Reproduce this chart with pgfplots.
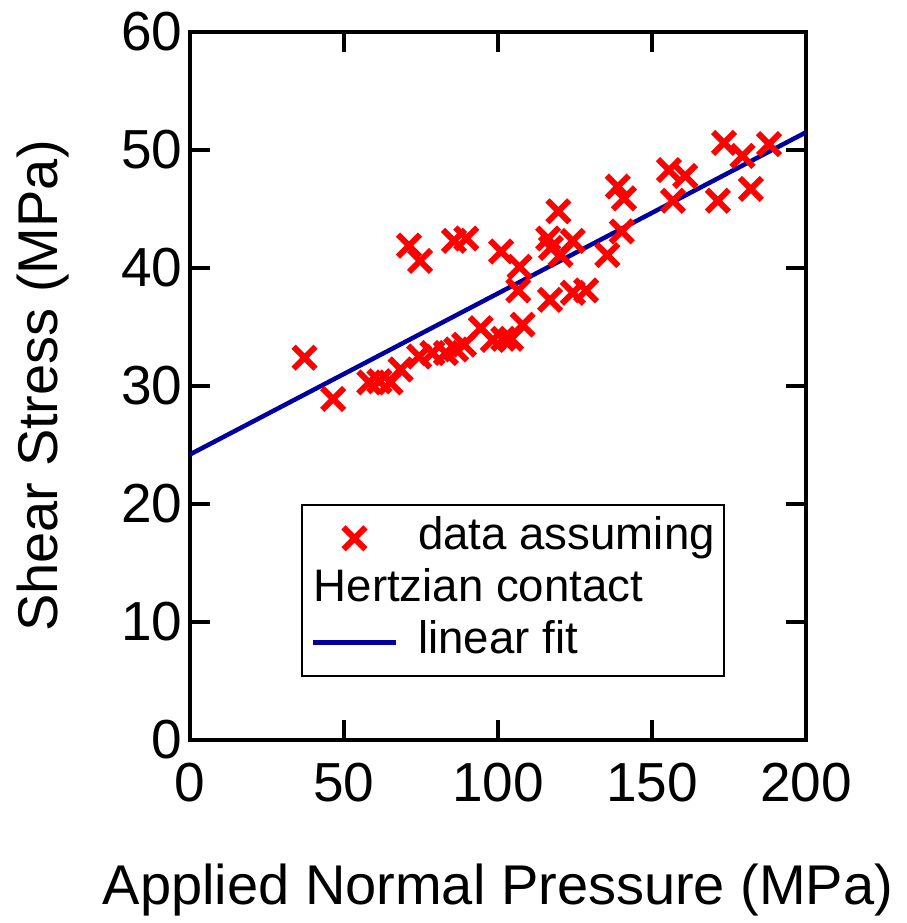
\documentclass[border=0pt]{standalone}
\usepackage{fontspec}
\setmainfont{Liberation Sans}
\usepackage{pgfplots}
\pgfplotsset{compat=1.18}
\definecolor{fitblue}{RGB}{0,0,160}
\begin{document}
\begin{tikzpicture}
\begin{axis}[
 name=ax,
 scale only axis, width=616pt, height=708pt,
 xmin=0,xmax=200,ymin=0,ymax=60,
 xtick={0,50,...,200}, ytick={0,10,...,60},
 axis line style={line width=4.5pt},
 every tick/.style={black, line width=4.5pt},
 major tick length=20pt,
 tick label style={font=\fontsize{55}{60}\selectfont},
 /pgf/number format/assume math mode=true,
 xticklabel style={yshift=-20pt},
 yticklabel style={xshift=-4pt},
 xlabel={Applied Normal Pressure (MPa)},
 ylabel={Shear Stress (MPa)},
 label style={font=\fontsize{56}{60}\selectfont},
 xlabel style={at={(axis description cs:0.5,-0.233)},anchor=base},
 ylabel style={at={(axis description cs:-0.2143,0.5)},anchor=base},
 legend style={at={(axis description cs:0.1802,0.3333)}, anchor=north west,
   draw=black, line width=1.5pt, font=\fontsize{45.6}{50}\selectfont,
   inner xsep=9pt, inner ysep=11pt, row sep=7pt, column sep=20pt,
   nodes={inner sep=0pt, text height=34pt, text depth=11pt}},
 legend cell align=left,
]
\addplot[only marks, mark=x, mark size=15.5pt, red, mark options={line width=6pt},
  legend image code/.code={\draw[red,line width=6pt,mark size=15.5pt] plot[only marks, mark=x] coordinates {(41.5pt,0pt)};}]
table {
x y
37.2 32.4
46.5 28.9
58.2 30.3
61.5 30.4
65.1 30.3
68.4 31.4
71.1 41.9
74.7 40.6
74.4 32.5
78.7 32.8
83.1 32.8
85.7 42.3
89.7 42.5
86.4 33.1
89.0 33.5
94.4 34.9
101.0 41.4
98.3 33.9
101.7 34.0
104.3 34.0
107.0 40.1
106.6 38.1
108.0 35.2
116.9 37.3
116.3 42.5
117.2 41.7
119.6 44.8
120.3 41.1
124.3 42.3
124.3 37.9
128.6 38.1
135.5 41.1
138.9 46.9
140.9 45.9
140.2 43.1
155.5 48.3
160.8 47.8
156.8 45.7
171.4 45.7
173.4 50.6
179.4 49.5
182.1 46.7
188.0 50.5
};
\addlegendentry{data assuming}
\addlegendimage{empty legend}
\addlegendentry{\makebox[0pt][l]{\hspace*{-105pt}Hertzian contact}}
\addplot[fitblue, line width=4.5pt,
  legend image code/.code={\draw[fitblue,line width=4.5pt] (0pt,0pt) -- (83pt,0pt);}]
coordinates {(0,24.2) (200,51.5)};
\addlegendentry{linear fit}
\end{axis}
\pgfresetboundingbox
\path (ax.south west) ++(-190pt,-183pt) rectangle ++(906pt,923pt);
\end{tikzpicture}
\end{document}
